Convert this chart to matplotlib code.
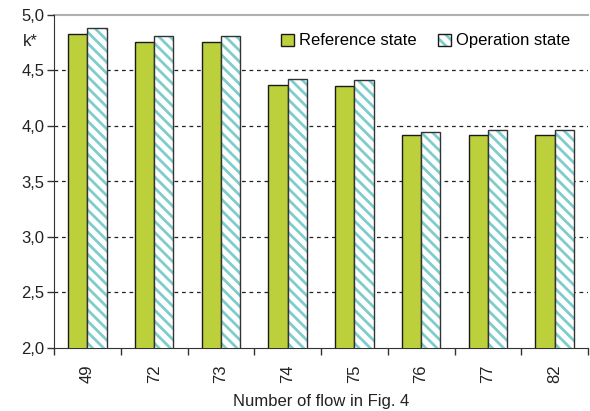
import numpy as np
import matplotlib.pyplot as plt
from matplotlib.patches import Patch
from matplotlib.legend_handler import HandlerTuple

plt.rcParams['font.family'] = ['Liberation Sans', 'DejaVu Sans']

flows = ['49', '72', '73', '74', '75', '76', '77', '82']
reference_state = [4.83, 4.76, 4.76, 4.37, 4.36, 3.92, 3.92, 3.92]
operation_state = [4.88, 4.81, 4.81, 4.42, 4.41, 3.95, 3.96, 3.96]

green = '#bcd03c'
teal = '#7ecccc'
dark = '#222222'
fs = 12
plt.rcParams['hatch.linewidth'] = 2.0

fig = plt.figure(figsize=(5.9, 4.11), dpi=100)
ax = fig.add_axes([54 / 590, 1 - 348 / 411, 534 / 590, 333 / 411])

x = np.arange(len(flows))
w = 0.29
ax.bar(x - w / 2, reference_state, w, color=green, edgecolor='#1a1a1a',
       linewidth=1.0, zorder=3)
ax.bar(x + w / 2, operation_state, w, color='white', edgecolor=teal, hatch='\\\\\\',
       linewidth=0, zorder=3)
ax.bar(x + w / 2, operation_state, w, color='none', edgecolor='#333333',
       linewidth=1.0, zorder=4)

ax.set_ylim(2.0, 5.0)
ax.set_xlim(-0.5, len(flows) - 0.5)
yt = np.arange(2.0, 5.01, 0.5)
ax.set_yticks(yt)
ax.set_yticklabels([f'{v:.1f}'.replace('.', ',') for v in yt])
ax.set_xticks(x)
ax.set_xticklabels(flows, rotation=90)
ax.set_xticks(np.arange(-0.5, len(flows)), minor=True)
ax.tick_params(axis='x', which='major', length=0, pad=12, labelsize=fs, colors=dark)
ax.tick_params(axis='x', which='minor', length=5, width=1, color='#333333')
ax.tick_params(axis='y', length=5, width=1, color='#333333', labelsize=fs,
               labelcolor=dark, pad=2)

for v in [2.5, 3.0, 3.5, 4.0, 4.5]:
    ax.axhline(v, color=dark, linestyle=(0, (3, 3)), linewidth=0.9, zorder=1)
ax.axhline(5.0, color='#b0b0b0', linewidth=1.5, zorder=1, clip_on=False)

for s in ['top', 'right']:
    ax.spines[s].set_visible(False)
ax.spines['left'].set_color('#333333')
ax.spines['bottom'].set_color('#333333')

ax.set_xlabel('Number of flow in Fig. 4', fontsize=fs, color=dark, labelpad=8)
fig.text(30 / 590, 1 - 42 / 411, 'k*', fontsize=fs, color=dark,
         ha='center', va='center')

h_ref = Patch(facecolor=green, edgecolor='#1a1a1a', linewidth=1.0)
h_op = (Patch(facecolor='white', edgecolor=teal, hatch='\\\\\\', linewidth=0),
        Patch(facecolor='none', edgecolor='#1a1a1a', linewidth=1.0))
ax.legend([h_ref, h_op], ['Reference state', 'Operation state'], ncol=2,
          frameon=False, loc='center left', bbox_to_anchor=(0.426, 0.922),
          fontsize=fs, handlelength=0.75, handleheight=0.75, handletextpad=0.3,
          columnspacing=1.3, borderaxespad=0, borderpad=0,
          handler_map={tuple: HandlerTuple(ndivide=1, pad=0)})

fig.savefig('out.png', dpi=100)
